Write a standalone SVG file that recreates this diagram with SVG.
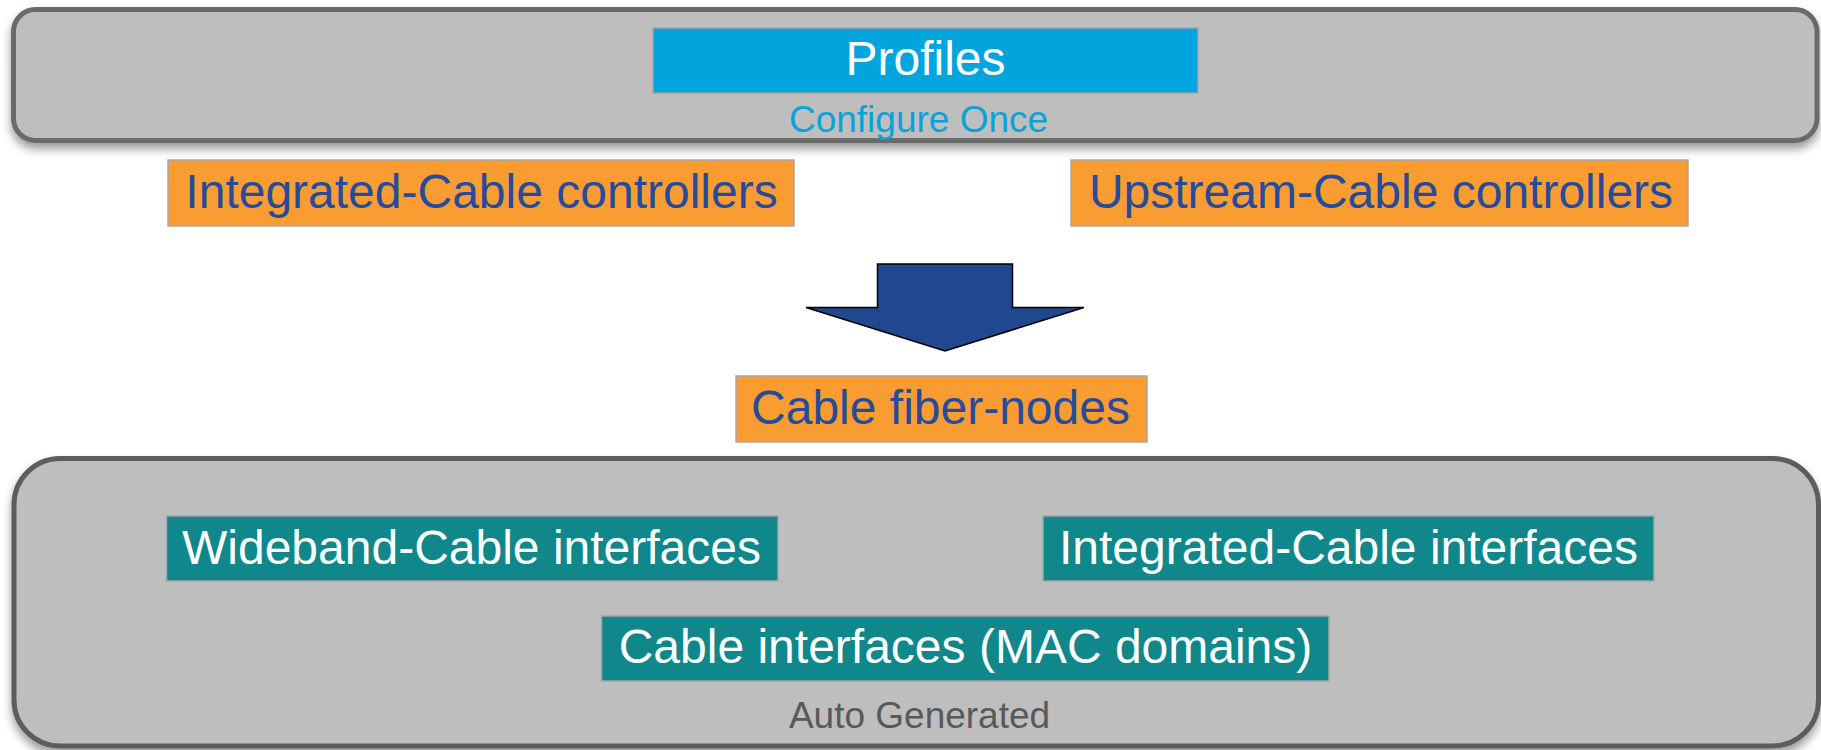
<svg xmlns="http://www.w3.org/2000/svg" width="1821" height="750" viewBox="0 0 1821 750">
  <style>
    text { font-family: "Liberation Sans", Arial, sans-serif; }
    .panel { fill: #bebebe; stroke-width: 5; }
    .box { stroke: #a6a6a6; stroke-width: 1.5; }
    .cyan { fill: #02a4de; }
    .orange { fill: #f99d33; }
    .teal { fill: #0f878b; }
    .lbl { font-size: 48px; text-anchor: middle; }
    .white { fill: #ffffff; }
    .navy { fill: #264b9b; }
    .note { font-size: 37px; text-anchor: middle; }
  </style>
  <defs>
    <filter id="shadow" x="-5%" y="-20%" width="110%" height="140%">
      <feDropShadow dx="0" dy="6" stdDeviation="5" flood-color="#000" flood-opacity="0.4"/>
    </filter>
  </defs>

  <!-- upper panel: profiles configured once -->
  <g id="config-panel">
    <rect class="panel" x="13.5" y="9.5" width="1803.5" height="131" rx="22" stroke="#6b6b6b" filter="url(#shadow)"/>
  </g>
  <g id="profiles">
    <rect class="box cyan" x="653" y="28" width="545" height="65"/>
    <text class="lbl white" x="925.5" y="75">Profiles</text>
  </g>
  <g id="configure-once">
    <text class="note" x="918.5" y="131.5" fill="#05a3dc">Configure Once</text>
  </g>

  <!-- controllers -->
  <g id="integrated-cable-controllers">
    <rect class="box orange" x="168" y="160" width="626" height="66"/>
    <text class="lbl navy" x="481.5" y="208">Integrated-Cable controllers</text>
  </g>
  <g id="upstream-cable-controllers">
    <rect class="box orange" x="1071" y="160" width="617" height="66"/>
    <text class="lbl navy" x="1381" y="208">Upstream-Cable controllers</text>
  </g>

  <!-- block arrow -->
  <g id="connectors">
    <polygon points="877.5,264 1012.5,264 1012.5,307.5 1084,307.5 945,351 806,307.5 877.5,307.5" fill="#21478f" stroke="#000" stroke-width="1.5" stroke-linejoin="miter"/>
  </g>

  <g id="cable-fiber-nodes">
    <rect class="box orange" x="736" y="376" width="411" height="66"/>
    <text class="lbl navy" x="940.5" y="424">Cable fiber-nodes</text>
  </g>

  <!-- lower panel: auto generated interfaces -->
  <g id="generated-panel">
    <rect class="panel" x="14" y="458.5" width="1804.5" height="287.5" rx="46" stroke="#5d5d5d" filter="url(#shadow)"/>
  </g>
  <g id="wideband-cable-interfaces">
    <rect class="box teal" x="166.5" y="516" width="611.5" height="65"/>
    <text class="lbl white" x="471.5" y="564">Wideband-Cable interfaces</text>
  </g>
  <g id="integrated-cable-interfaces">
    <rect class="box teal" x="1043" y="516" width="611" height="65"/>
    <text class="lbl white" x="1348.5" y="564">Integrated-Cable interfaces</text>
  </g>
  <g id="cable-interfaces">
    <rect class="box teal" x="601.5" y="616" width="727.5" height="65"/>
    <text class="lbl white" x="965.5" y="663">Cable interfaces (MAC domains)</text>
  </g>
  <g id="auto-generated">
    <text class="note" x="919.5" y="728" fill="#595959">Auto Generated</text>
  </g>
</svg>
